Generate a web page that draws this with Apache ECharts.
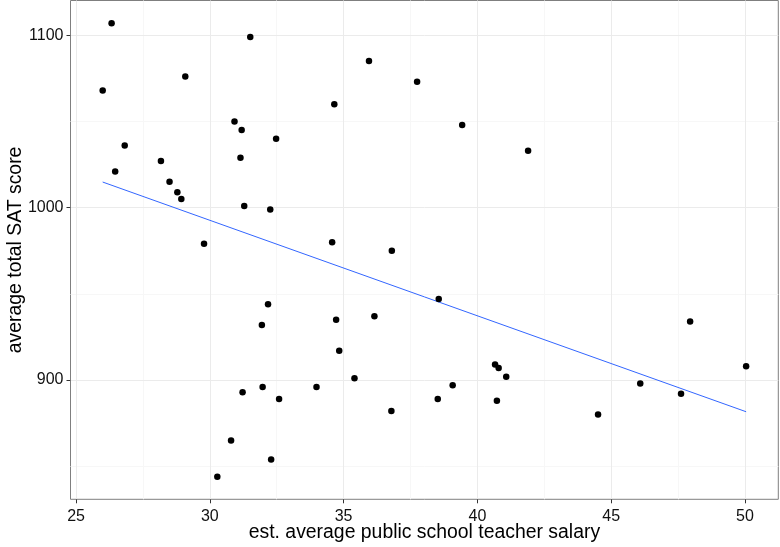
<!DOCTYPE html>
<html><head><meta charset="utf-8">
<script src="https://cdn.jsdelivr.net/npm/echarts@6/dist/echarts.min.js"></script>
<style>html,body{margin:0;padding:0;background:#fff}#c{width:780px;height:547px}</style>
</head><body><div id="c"></div>
<script>
const salary = [31.144,47.951,32.175,28.934,41.078,34.571,50.045,39.076,32.588,32.291,38.518,29.783,39.431,36.785,31.511,34.652,32.257,26.461,31.972,40.661,40.795,41.895,35.948,26.818,31.189,28.785,30.922,34.836,34.720,46.087,28.493,47.612,30.793,26.327,36.802,28.172,38.555,44.510,40.729,30.279,25.994,32.477,31.223,29.082,35.406,33.987,36.151,31.944,37.746,31.285];
const sat = [1029,934,944,1005,902,980,908,897,889,854,889,979,1048,882,1099,1060,999,1021,896,909,907,1033,1085,1036,1045,1009,1050,917,935,898,1015,892,865,1107,975,1027,947,880,888,844,1068,1040,893,1076,901,896,937,932,1073,1001];
const xTicks = [25,30,35,40,45,50];
const xMinor = [27.5,32.5,37.5,42.5,47.5];
const yTicks = [900,1000,1100];
const yMinor = [850,950,1050];

const n = salary.length;
const mx = salary.reduce((a,b)=>a+b,0)/n, my = sat.reduce((a,b)=>a+b,0)/n;
let sxy=0,sxx=0; for(let i=0;i<n;i++){sxy+=(salary[i]-mx)*(sat[i]-my);sxx+=(salary[i]-mx)**2;}
const slope=sxy/sxx, icpt=my-slope*mx;
const xmin=Math.min(...salary), xmax=Math.max(...salary);
const ymin=Math.min(...sat), ymax=Math.max(...sat);
const xr=xmax-xmin, yr=ymax-ymin;
const fit=[[xmin,icpt+slope*xmin],[xmax,icpt+slope*xmax]];

const FONT='Liberation Sans, Arial, sans-serif';
const gl=(vals,key,color)=>vals.map(v=>({[key]:v,lineStyle:{color:color,width:1,type:'solid'}}));
const chart=echarts.init(document.getElementById('c'),null,{renderer:'canvas'});
chart.setOption({
  animation:false,
  backgroundColor:'#fff',
  grid:{left:70.5,right:1.7,top:0.5,bottom:47.7,containLabel:false,outerBoundsMode:'none',show:true,borderColor:'#7f7f7f',borderWidth:1,backgroundColor:'#fff'},
  xAxis:{type:'value',min:xmin-0.05*xr,max:xmax+0.05*xr,
    name:'est. average public school teacher salary',nameLocation:'middle',nameGap:24,nameMoveOverlap:false,
    nameTextStyle:{fontFamily:FONT,fontSize:19.4,color:'#000',verticalAlign:'top'},
    axisLine:{show:false},splitLine:{show:false},
    axisTick:{show:true,length:4,lineStyle:{color:'#333',width:1},customValues:xTicks},
    axisLabel:{customValues:xTicks,formatter:v=>String(v),fontFamily:FONT,fontSize:16,color:'#111',margin:9}},
  yAxis:{type:'value',min:ymin-0.05*yr,max:ymax+0.05*yr,
    name:'average total SAT score',nameLocation:'middle',nameGap:45,nameMoveOverlap:false,nameRotate:90,
    nameTextStyle:{fontFamily:FONT,fontSize:19.4,color:'#000',verticalAlign:'bottom'},
    axisLine:{show:false},splitLine:{show:false},
    axisTick:{show:true,length:4,lineStyle:{color:'#333',width:1},customValues:yTicks},
    axisLabel:{customValues:yTicks,formatter:v=>String(v),fontFamily:FONT,fontSize:16,color:'#111',margin:7}},
  series:[
    {type:'line',data:[],silent:true,z:0,markLine:{silent:true,symbol:'none',label:{show:false},animation:false,z:0,
      data:[...gl(xMinor,'xAxis','#f7f7f7'),...gl(yMinor,'yAxis','#f7f7f7'),...gl(xTicks,'xAxis','#ebebeb'),...gl(yTicks,'yAxis','#ebebeb')]}},
    {type:'line',data:fit,showSymbol:false,silent:true,lineStyle:{color:'#3366ff',width:1},z:2},
    {type:'scatter',data:salary.map((x,i)=>[x,sat[i]]),symbolSize:6.5,itemStyle:{color:'#000',opacity:1},z:5}
  ]
});
</script></body></html>
